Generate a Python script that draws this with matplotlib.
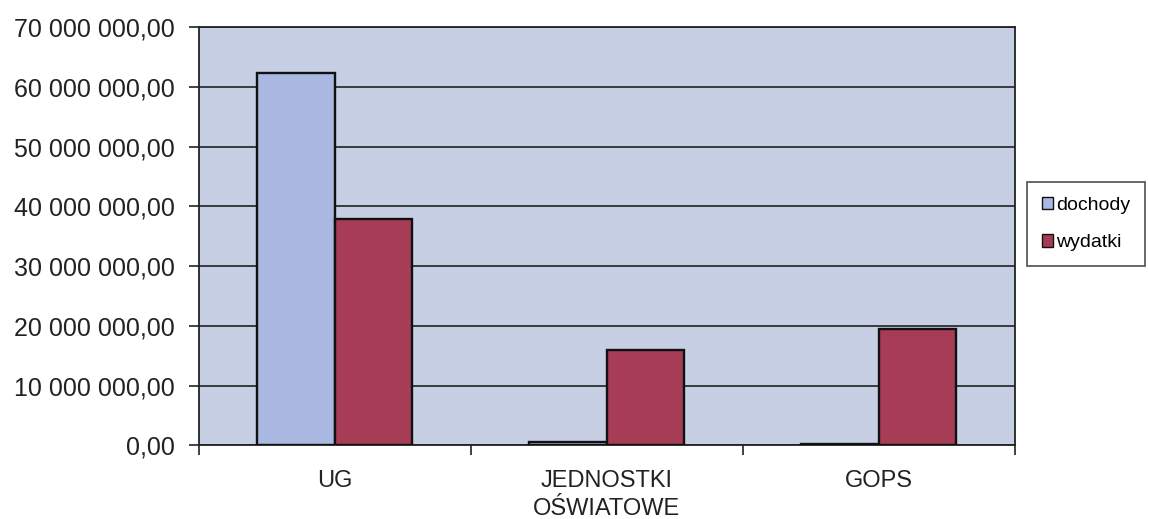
import matplotlib
matplotlib.use("Agg")
import matplotlib.pyplot as plt
import numpy as np
from matplotlib.patches import Patch

plt.rcParams['font.family'] = ['Liberation Sans', 'DejaVu Sans']

categories = ["UG", "JEDNOSTKI\nOŚWIATOWE", "GOPS"]
dochody = [62300000, 500000, 300000]
wydatki = [37800000, 16000000, 19500000]
y_ticks = [0, 10000000, 20000000, 30000000, 40000000, 50000000, 60000000, 70000000]


def fmt_pl(v):
    # polski format: spacje tysiecy, przecinek dziesietny
    s = "{:,.2f}".format(v)
    return s.replace(",", " ").replace(".", ",")


fig = plt.figure(figsize=(11.49, 5.19), dpi=100)
ax = fig.add_axes([0.173, 0.142, 0.710, 0.806])
ax.set_facecolor("#c7cfe5")

x = np.arange(len(categories))
w = 0.285
ax.bar(x - w / 2, dochody, w, color="#a9b9e2", edgecolor="#111111", linewidth=1.7,
       label="dochody", zorder=3)
ax.bar(x + w / 2, wydatki, w, color="#a63c55", edgecolor="#111111", linewidth=1.7,
       label="wydatki", zorder=3)

ax.set_ylim(0, 70000000)
ax.set_xlim(-0.5, 2.5)
ax.set_yticks(y_ticks)
ax.set_yticklabels([fmt_pl(v) for v in y_ticks], fontsize=18, color="#222222")
ax.yaxis.grid(True, color="#222222", linewidth=1.2, zorder=1)

# etykiety kategorii i znaczniki miedzy kategoriami
ax.set_xticks(x)
ax.set_xticklabels(categories, fontsize=17, color="#222222", linespacing=1.35)
ax.tick_params(axis="x", length=0, pad=18)
ax.set_xticks([-0.5, 0.5, 1.5, 2.5], minor=True)
ax.tick_params(axis="x", which="minor", length=7, width=1.2, color="#222222")
ax.tick_params(axis="y", length=7, width=1.2, color="#222222", pad=10)

for side in ["left", "bottom", "right", "top"]:
    ax.spines[side].set_color("#222222")
    ax.spines[side].set_linewidth(1.3)

handles = [Patch(facecolor="#a9b9e2", edgecolor="#111111", label="dochody"),
           Patch(facecolor="#a63c55", edgecolor="#111111", label="wydatki")]
leg = fig.legend(handles=handles, loc="center left", bbox_to_anchor=(0.894, 0.568),
                 frameon=True, fancybox=False, fontsize=14, handlelength=0.6,
                 handleheight=0.6, handletextpad=0.15, labelspacing=1.05,
                 borderpad=0.75, borderaxespad=0, edgecolor="#222222")
leg.get_frame().set_linewidth(1.2)

fig.savefig("out.png", dpi=100, facecolor="white")
